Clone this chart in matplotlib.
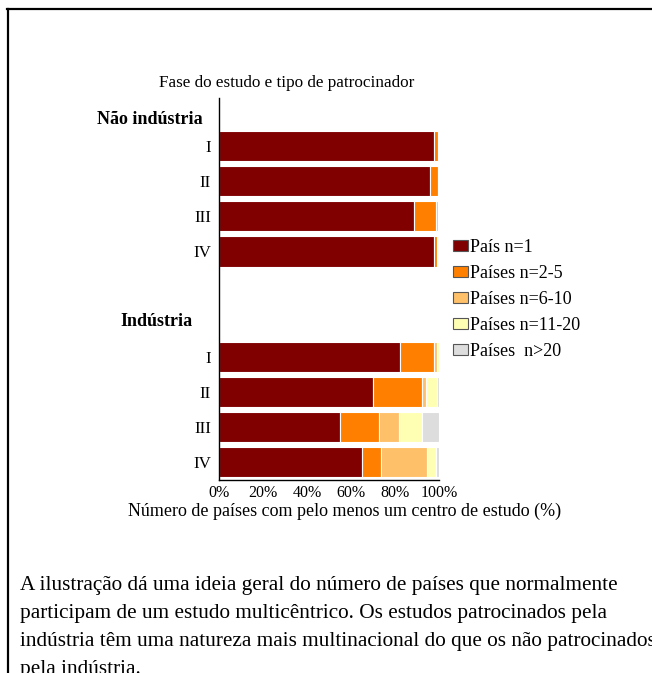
import matplotlib
matplotlib.use("Agg")
import matplotlib.pyplot as plt
from matplotlib.lines import Line2D
from matplotlib.patches import Patch
import numpy as np

W, H = 652, 673
DPI = 100

phases = ["I", "II", "III", "IV"]
groups = ["Não indústria", "Indústria"]
series_labels = ["País n=1", "Países n=2-5", "Países n=6-10", "Países n=11-20", "Países  n>20"]
colors = ["#800000", "#FF8000", "#FFC06A", "#FFFFB3", "#DDDDDD"]

# Não indústria (phases I-IV), percentage of studies
nao_pais1 = [97.7, 95.9, 88.5, 97.7]
nao_n2_5 = [2.0, 3.6, 10.0, 1.5]
nao_n6_10 = [0.3, 0.3, 1.0, 0.5]
nao_n11_20 = [0.0, 0.2, 0.5, 0.3]
nao_n20 = [0.0, 0.0, 0.0, 0.0]

# Indústria (phases I-IV)
ind_pais1 = [82.1, 70.0, 54.9, 65.0]
ind_n2_5 = [15.5, 22.4, 17.9, 8.5]
ind_n6_10 = [1.7, 1.5, 9.1, 21.0]
ind_n11_20 = [0.5, 5.3, 10.5, 4.3]
ind_n20 = [0.2, 0.8, 7.6, 1.2]

xticks = [0, 20, 40, 60, 80, 100]
xticklabels = ["0%", "20%", "40%", "60%", "80%", "100%"]

title = "Fase do estudo e tipo de patrocinador"
xlabel = "Número de países com pelo menos um centro de estudo (%)"
caption_lines = [
    "A ilustração dá uma ideia geral do número de países que normalmente",
    "participam de um estudo multicêntrico. Os estudos patrocinados pela",
    "indústria têm uma natureza mais multinacional do que os não patrocinados",
    "pela indústria.",
]

SERIF = ["Liberation Serif", "DejaVu Serif"]
plt.rcParams["font.family"] = SERIF


def fx(x):
    return x / W


def fy(y):
    return 1 - y / H


def pt(px):
    return px * 72 / DPI


fig = plt.figure(figsize=(W / DPI, H / DPI), dpi=DPI)
fig.patch.set_facecolor("white")

# outer frame (top and left edges visible)
fig.add_artist(Line2D([fx(7), fx(W + 5)], [fy(9), fy(9)], color="black", lw=pt(2.2),
                      transform=fig.transFigure))
fig.add_artist(Line2D([fx(7.5), fx(7.5)], [fy(9), fy(H + 5)], color="black", lw=pt(2.2),
                      transform=fig.transFigure))

ax_l, ax_r, ax_t, ax_b = 219, 439, 98, 480
ax = fig.add_axes([fx(ax_l), fy(ax_b), fx(ax_r - ax_l), (ax_b - ax_t) / H])

nao = [nao_pais1, nao_n2_5, nao_n6_10, nao_n11_20, nao_n20]
ind = [ind_pais1, ind_n2_5, ind_n6_10, ind_n11_20, ind_n20]

y_nao = np.arange(1, 5)
y_ind = np.arange(7, 11)
bar_h = 0.86

handles = []
left_nao = np.zeros(4)
left_ind = np.zeros(4)
for k in range(5):
    ax.barh(y_nao, nao[k], left=left_nao, height=bar_h, color=colors[k],
            edgecolor="white", linewidth=0.8)
    ax.barh(y_ind, ind[k], left=left_ind, height=bar_h, color=colors[k],
            edgecolor="white", linewidth=0.8)
    left_nao += np.array(nao[k])
    left_ind += np.array(ind[k])
    handles.append(Patch(facecolor=colors[k], edgecolor="#555555", linewidth=0.8,
                         label=series_labels[k]))

ax.set_xlim(0, 100)
ax.set_ylim(10.51, -0.37)
ax.set_xticks(xticks)
ax.set_xticklabels(xticklabels, fontsize=pt(16))
ax.set_yticks(list(y_nao) + list(y_ind))
ax.set_yticklabels(phases + phases, fontsize=pt(17))
ax.tick_params(axis="both", length=0)
ax.tick_params(axis="y", pad=pt(8))
ax.tick_params(axis="x", pad=pt(5))
for s in ["top", "right"]:
    ax.spines[s].set_visible(False)
for s in ["left", "bottom"]:
    ax.spines[s].set_linewidth(1.0)
    ax.spines[s].set_color("black")

# group headers
fig.text(fx(203), fy(120), groups[0], ha="right", va="center", fontsize=pt(18),
         fontweight="bold")
fig.text(fx(193), fy(321.5), groups[1], ha="right", va="center", fontsize=pt(18),
         fontweight="bold")

# title and x label
fig.text(fx(286.5), fy(83), title, ha="center", va="center", fontsize=pt(17.1))
fig.text(fx(345), fy(511), xlabel, ha="center", va="center", fontsize=pt(18))

# legend
leg = fig.legend(handles=handles, loc="upper left",
                 bbox_to_anchor=(fx(453), fy(239)), frameon=False,
                 fontsize=pt(18), handlelength=0.85, handleheight=0.55,
                 handletextpad=0.1, labelspacing=0.5, borderpad=0, borderaxespad=0)

# caption
for i, line in enumerate(caption_lines):
    fig.text(fx(20), fy(590 + 28 * i), line, ha="left", va="baseline", fontsize=pt(21.3))

fig.savefig("out.png", dpi=DPI)
